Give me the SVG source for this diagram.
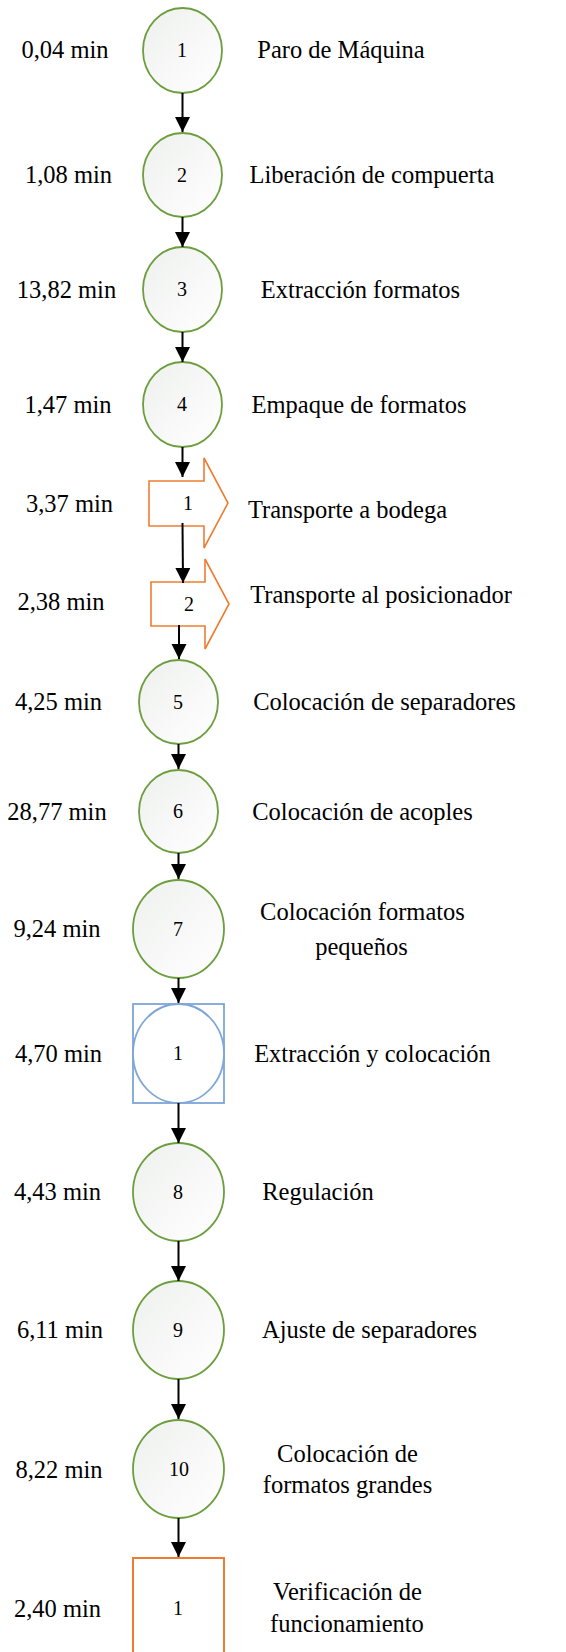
<svg xmlns="http://www.w3.org/2000/svg" width="566" height="1652" viewBox="0 0 566 1652">
<style>
text{font-family:"Liberation Serif","Times New Roman",serif;fill:#000}
.lab{font-size:24.5px;text-anchor:middle}
.num{font-size:20px;text-anchor:middle}
.op{fill:url(#g);stroke:#6c9e3e;stroke-width:1.8}
.tr{fill:#fff;stroke:#ee7d32;stroke-width:1.6}
.insp{fill:#fff;stroke:#ee7d32;stroke-width:2}
.comb{fill:#fff;stroke:#7ea6d8;stroke-width:1.8}
.c{stroke:#000;stroke-width:2;fill:none;marker-end:url(#ah)}
</style>
<defs>
<linearGradient id="g" x1="0" y1="0" x2="1" y2="1">
<stop offset="0" stop-color="#eef0ee"/>
<stop offset="0.6" stop-color="#f8f9f8"/>
<stop offset="1" stop-color="#ffffff"/>
</linearGradient>
<marker id="ah" markerUnits="userSpaceOnUse" markerWidth="16" markerHeight="16" refX="15" refY="7.5" orient="auto">
<path d="M0,0 L15,7.5 L0,15 Z" fill="#000"/>
</marker>
</defs>
<rect width="566" height="1652" fill="#fff"/>

<g id="n1"><ellipse class="op" cx="182.5" cy="50.5" rx="39.5" ry="42.5"/><text class="num" x="182" y="57">1</text><text class="lab" x="65" y="58">0,04 min</text><text class="lab" x="341" y="58">Paro de Máquina</text></g>
<g id="n2"><ellipse class="op" cx="182.5" cy="175" rx="39.5" ry="42"/><text class="num" x="182" y="182">2</text><text class="lab" x="68.5" y="183">1,08 min</text><text class="lab" x="372" y="183">Liberación de compuerta</text></g>
<g id="n3"><ellipse class="op" cx="182.5" cy="289.5" rx="39.5" ry="42.5"/><text class="num" x="182" y="296">3</text><text class="lab" x="66.5" y="298">13,82 min</text><text class="lab" x="360.5" y="298">Extracción formatos</text></g>
<g id="n4"><ellipse class="op" cx="182.5" cy="404.5" rx="39.5" ry="42.5"/><text class="num" x="182" y="411">4</text><text class="lab" x="68" y="413">1,47 min</text><text class="lab" x="359" y="413">Empaque de formatos</text></g>
<g id="t1"><path class="tr" d="M149,481 H204 V458 L228,503 L204,548 V526 H149 Z"/><text class="num" x="188" y="510">1</text><text class="lab" x="69.5" y="512">3,37 min</text><text class="lab" x="347.5" y="518">Transporte a bodega</text></g>
<g id="t2"><path class="tr" d="M151,582 H205 V559 L229,604 L205,649 V626 H151 Z"/><text class="num" x="189" y="611">2</text><text class="lab" x="61" y="610">2,38 min</text><text class="lab" x="381" y="603">Transporte al posicionador</text></g>
<g id="n5"><ellipse class="op" cx="178.5" cy="702" rx="39.5" ry="42"/><text class="num" x="178" y="709">5</text><text class="lab" x="58.5" y="710">4,25 min</text><text class="lab" x="384.5" y="710">Colocación de separadores</text></g>
<g id="n6"><ellipse class="op" cx="178.5" cy="811.5" rx="39.5" ry="41.5"/><text class="num" x="178" y="818">6</text><text class="lab" x="57" y="820">28,77 min</text><text class="lab" x="362.5" y="820">Colocación de acoples</text></g>
<g id="n7"><ellipse class="op" cx="178.5" cy="929" rx="45.5" ry="49"/><text class="num" x="178" y="936">7</text><text class="lab" x="57" y="937">9,24 min</text><text class="lab" x="362.5" y="920">Colocación formatos</text><text class="lab" x="361.5" y="955">pequeños</text></g>
<g id="c1"><rect class="comb" x="133" y="1004" width="91" height="99"/><ellipse class="comb" cx="178.5" cy="1053.5" rx="45.5" ry="49.5"/><text class="num" x="178" y="1060">1</text><text class="lab" x="58.5" y="1062">4,70 min</text><text class="lab" x="372.5" y="1062">Extracción y colocación</text></g>
<g id="n8"><ellipse class="op" cx="178.5" cy="1192" rx="45.5" ry="49"/><text class="num" x="178" y="1199">8</text><text class="lab" x="57.5" y="1200">4,43 min</text><text class="lab" x="318" y="1200">Regulación</text></g>
<g id="n9"><ellipse class="op" cx="178.5" cy="1330" rx="45.5" ry="49"/><text class="num" x="178" y="1337">9</text><text class="lab" x="60" y="1338">6,11 min</text><text class="lab" x="369.5" y="1338">Ajuste de separadores</text></g>
<g id="n10"><ellipse class="op" cx="178.5" cy="1469" rx="45.5" ry="49"/><text class="num" x="179" y="1476">10</text><text class="lab" x="59" y="1478">8,22 min</text><text class="lab" x="347.5" y="1462">Colocación de</text><text class="lab" x="347.5" y="1493">formatos grandes</text></g>
<g id="i1"><rect class="insp" x="133" y="1558" width="91" height="110"/><text class="num" x="178" y="1615">1</text><text class="lab" x="57.5" y="1617">2,40 min</text><text class="lab" x="347.5" y="1600">Verificación de</text><text class="lab" x="347" y="1632">funcionamiento</text></g>

<g id="connectors">
<line class="c" x1="182.5" y1="93" x2="182.5" y2="132"/>
<line class="c" x1="182.5" y1="217" x2="182.5" y2="247"/>
<line class="c" x1="182.5" y1="332" x2="182.5" y2="362"/>
<line class="c" x1="182.5" y1="447" x2="182.5" y2="477"/>
<line class="c" x1="182.5" y1="523" x2="183" y2="583"/>
<line class="c" x1="179" y1="625" x2="179" y2="659"/>
<line class="c" x1="178.5" y1="744" x2="178.5" y2="769"/>
<line class="c" x1="178.5" y1="853" x2="178.5" y2="879"/>
<line class="c" x1="178.5" y1="978" x2="178.5" y2="1003"/>
<line class="c" x1="178.5" y1="1103" x2="178.5" y2="1143"/>
<line class="c" x1="178.5" y1="1241" x2="178.5" y2="1281"/>
<line class="c" x1="178.5" y1="1379" x2="178.5" y2="1419"/>
<line class="c" x1="178.5" y1="1518" x2="178.5" y2="1557"/>
</g>
</svg>
